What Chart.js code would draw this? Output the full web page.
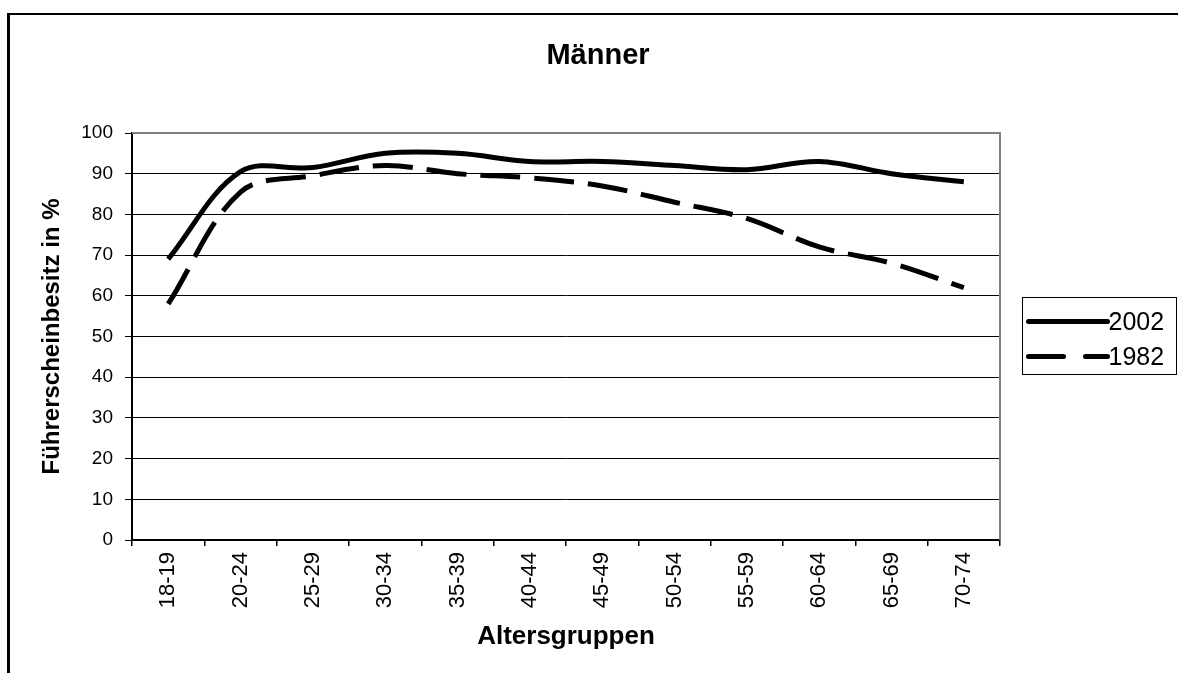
<!DOCTYPE html>
<html>
<head>
<meta charset="utf-8">
<script src="https://cdn.jsdelivr.net/npm/chart.js@4.4.1/dist/chart.umd.min.js"></script>
<style>
  html, body { margin: 0; padding: 0; background: #fff; overflow: hidden; }
  #wrap { position: relative; width: 1178px; height: 673px; }
  #frame {
    position: absolute; left: 7px; top: 13px; width: 1300px; height: 800px;
    border-left: 3px solid #000; border-top: 2px solid #000; pointer-events: none;
  }
</style>
</head>
<body>
<div id="wrap">
  <canvas id="chart" width="1178" height="673"></canvas>
  <div id="frame"></div>
</div>
<script>
/* ── Daten ─────────────────────────────────────────── */
const AGE_GROUPS = ['18-19', '20-24', '25-29', '30-34', '35-39', '40-44',
                    '45-49', '50-54', '55-59', '60-64', '65-69', '70-74'];
const VALUES_2002 = [69, 90.5, 91.5, 95, 95, 93, 93, 92, 91, 93, 90, 88];
const VALUES_1982 = [58, 85.5, 89.5, 92, 90, 89, 87, 83, 79, 72, 68, 62];
const SERIES_LABELS = ['2002', '1982'];
const Y_TICKS = [0, 10, 20, 30, 40, 50, 60, 70, 80, 90, 100];
const CHART_TITLE = 'Männer';

const FONT = '"Liberation Sans", Arial, sans-serif';

/* ── Titel (über der ganzen Diagrammfläche zentriert) ── */
const chartTitle = {
  id: 'chartTitle',
  afterDraw(chart) {
    const { ctx } = chart;
    ctx.save();
    ctx.fillStyle = '#000';
    ctx.font = 'bold 29px ' + FONT;
    ctx.textAlign = 'center';
    ctx.textBaseline = 'middle';
    ctx.fillText(CHART_TITLE, 598, 56);
    ctx.restore();
  }
};

/* ── Rahmen oben/rechts der Zeichenfläche (grau) ──── */
const plotFrame = {
  id: 'plotFrame',
  afterDatasetsDraw(chart) {
    const { ctx, chartArea: a } = chart;
    ctx.save();
    ctx.strokeStyle = '#808080';
    ctx.lineWidth = 2;
    ctx.beginPath();
    ctx.moveTo(a.left, a.top);
    ctx.lineTo(a.right, a.top);
    ctx.lineTo(a.right, a.bottom);
    ctx.stroke();
    ctx.restore();
  }
};

/* ── Legende mit Rahmen rechts ─────────────────────── */
const boxLegend = {
  id: 'boxLegend',
  afterDraw(chart) {
    const { ctx } = chart;
    const x = 1022.5, y = 297.5, w = 154, h = 77;
    ctx.save();
    ctx.fillStyle = '#fff';
    ctx.fillRect(x, y, w, h);
    ctx.strokeStyle = '#000';
    ctx.lineWidth = 1;
    ctx.strokeRect(x, y, w, h);
    chart.data.datasets.forEach((ds, i) => {
      const cy = y + 24 + i * 35;
      ctx.strokeStyle = '#000';
      ctx.lineWidth = ds.borderWidth;
      ctx.lineCap = 'round';
      ctx.setLineDash(ds.borderDash ? [35, 22] : []);
      ctx.beginPath();
      ctx.moveTo(x + 6, cy);
      ctx.lineTo(x + 85, cy);
      ctx.stroke();
      ctx.setLineDash([]);
      ctx.fillStyle = '#000';
      ctx.font = '25px ' + FONT;
      ctx.textBaseline = 'middle';
      ctx.textAlign = 'left';
      ctx.fillText(ds.label, x + 86, cy + 2);
    });
    ctx.restore();
  }
};

new Chart(document.getElementById('chart'), {
  type: 'line',
  data: {
    labels: AGE_GROUPS,
    datasets: [
      {
        label: SERIES_LABELS[0],
        data: VALUES_2002,
        borderColor: '#000',
        borderWidth: 5,
        pointRadius: 0,
        tension: 0.35,
        fill: false,
      },
      {
        label: SERIES_LABELS[1],
        data: VALUES_1982,
        borderColor: '#000',
        borderWidth: 5,
        borderDash: [40, 14],
        pointRadius: 0,
        tension: 0.35,
        fill: false,
      }
    ]
  },
  options: {
    responsive: false,
    animation: false,
    layout: { padding: { left: 18, right: 178, top: 133, bottom: 0 } },
    plugins: {
      legend: { display: false },
      tooltip: { enabled: false },
      title: { display: false }
    },
    scales: {
      x: {
        type: 'category',
        offset: true,
        afterFit: s => { s.height = 133; },
        grid: {
          offset: true,
          drawOnChartArea: false,
          color: '#000',
          lineWidth: 1.5,
          tickLength: 6
        },
        border: { display: true, color: '#000', width: 2 },
        ticks: {
          autoSkip: false,
          maxRotation: 90,
          minRotation: 90,
          padding: 6,
          color: '#000',
          font: { family: FONT, size: 22 }
        },
        title: {
          display: true,
          text: 'Altersgruppen',
          color: '#000',
          font: { family: FONT, size: 26, weight: 'bold' },
          padding: { top: 0, bottom: 21 }
        }
      },
      y: {
        min: 0,
        max: 100,
        afterFit: s => { s.width = 114; },
        afterBuildTicks: s => { s.ticks = Y_TICKS.map(v => ({ value: v })); },
        grid: { color: '#000', lineWidth: 1, tickLength: 7 },
        border: { display: true, color: '#000', width: 2 },
        ticks: {
          padding: 12,
          color: '#000',
          font: { family: FONT, size: 19 }
        },
        title: {
          display: true,
          text: 'Führerscheinbesitz in %',
          color: '#000',
          font: { family: FONT, size: 24, weight: 'bold' },
          padding: { top: 20, bottom: 0 }
        }
      }
    }
  },
  plugins: [plotFrame, boxLegend, chartTitle]
});
</script>
</body>
</html>
